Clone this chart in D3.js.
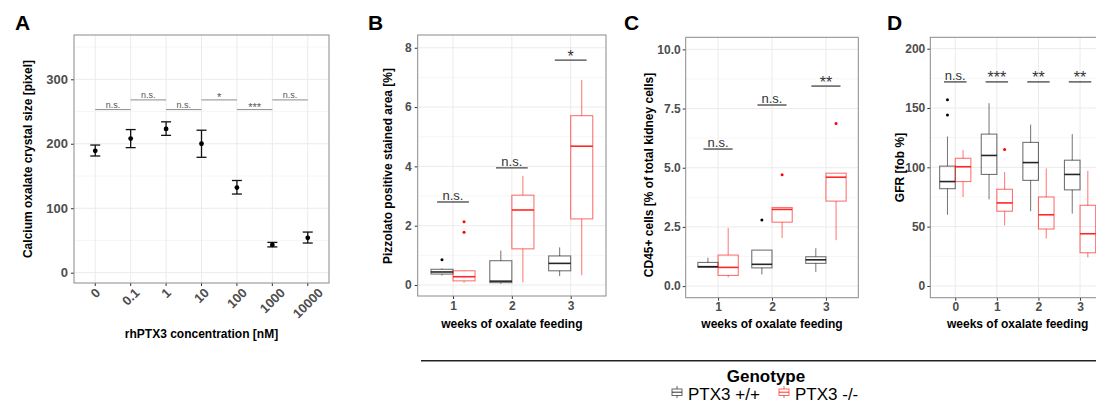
<!DOCTYPE html>
<html>
<head>
<meta charset="utf-8">
<script src="https://cdn.jsdelivr.net/npm/d3@7"></script>
<style>
  html, body { margin: 0; padding: 0; background: #fff; }
  svg { display: block; font-family: "Liberation Sans", Arial, Helvetica, sans-serif; }
</style>
</head>
<body>
<div id="chart"></div>
<script>
// -- Panel A: crystal size vs rhPTX3 concentration (mean +/- SEM) --------
var concLabels   = ["0", "0.1", "1", "10", "100", "1000", "10000"];
var crystalMean  = [189, 208, 223, 200, 132, 43, 54];
var crystalLow   = [181, 194, 213, 179, 122, 40, 46];
var crystalHigh  = [198, 222, 234, 221, 143, 47, 63];
var sigAFrom     = [0, 1, 2, 3, 4, 5];
var sigAY        = [253, 268, 253, 268, 253, 268];
var sigALabel    = ["n.s.", "n.s.", "n.s.", "*", "***", "n.s."];

// -- Boxplot stats: [lower whisker, Q1, median, Q3, upper whisker] -------
// Panel B: Pizzolato positive area
var weeksB      = ["1", "2", "3"];
var pizzWT      = [[0.32, 0.37, 0.44, 0.53, 0.56], [0.04, 0.08, 0.13, 0.82, 1.16], [0.30, 0.48, 0.73, 0.98, 1.27]];
var pizzKO      = [[0.08, 0.14, 0.28, 0.48, 0.50], [0.09, 1.22, 2.53, 3.03, 3.68], [0.33, 2.23, 4.68, 5.71, 6.91]];
var pizzWTOut   = [[0.85], [], []];
var pizzKOOut   = [[2.13, 1.78], [], []];
var sigBY       = [2.8, 3.95, 7.58];
var sigBLabel   = ["n.s.", "n.s.", "*"];

// Panel C: CD45+ cells
var weeksC      = ["1", "2", "3"];
var cd45WT      = [[0.79, 0.80, 0.82, 1.00, 1.20], [0.49, 0.77, 0.92, 1.52, 1.52], [0.60, 0.96, 1.11, 1.24, 1.60]];
var cd45KO      = [[0.37, 0.45, 0.79, 1.31, 2.46], [2.03, 2.70, 3.24, 3.32, 3.32], [1.94, 3.59, 4.60, 4.77, 4.77]];
var cd45WTOut   = [[], [2.79], []];
var cd45KOOut   = [[], [4.70], [6.87]];
var sigCY       = [5.79, 7.65, 8.45];
var sigCLabel   = ["n.s.", "n.s.", "**"];

// Panel D: GFR
var weeksD      = ["0", "1", "2", "3"];
var gfrWT       = [[60, 82, 88, 101, 126], [73, 94, 110, 128, 154], [63, 89, 104, 121, 136], [61, 81, 94, 106, 128]];
var gfrKO       = [[75, 88, 100.5, 107.6, 114.6], [51, 63, 70, 81.5, 96], [40, 48, 60, 75, 99], [24, 28, 44, 68, 97]];
var gfrWTOut    = [[157, 144], [], [], []];
var gfrKOOut    = [[], [115], [], []];
var sigDY       = [172, 172, 172, 172];
var sigDLabel   = ["n.s.", "***", "**", "**"];

var genotypes   = ["PTX3 +/+", "PTX3 -/-"];

// -- Setup ---------------------------------------------------------------
var W = 1096, H = 405;
var FONT = "'Liberation Sans', Arial, Helvetica, sans-serif";
var GENO_COLOR = ["#000000", "#ff0000"];

var svg = d3.select("#chart").append("svg")
  .attr("width", W).attr("height", H)
  .style("background", "#fff");

function panelFrame(p) {
  var n = p.cats.length;
  var x = d3.scaleLinear().domain([-0.6, n - 1 + 0.6]).range([p.left, p.right]);
  var y = d3.scaleLinear().domain(p.yDomain).range([p.bottom, p.top]);
  var g = svg.append("g");

  g.append("rect")
    .attr("x", p.left).attr("y", p.top)
    .attr("width", p.right - p.left).attr("height", p.bottom - p.top)
    .attr("fill", "#fff");

  // minor grid
  g.selectAll(".minor").data(p.yMinor).join("line")
    .attr("x1", p.left).attr("x2", p.right)
    .attr("y1", function (d) { return y(d); }).attr("y2", function (d) { return y(d); })
    .attr("stroke", "#f4f4f4").attr("stroke-width", 0.8);
  // major grid
  g.selectAll(".majorY").data(p.yTicks).join("line")
    .attr("x1", p.left).attr("x2", p.right)
    .attr("y1", function (d) { return y(d); }).attr("y2", function (d) { return y(d); })
    .attr("stroke", "#ebebeb").attr("stroke-width", 1);
  g.selectAll(".majorX").data(d3.range(n)).join("line")
    .attr("y1", p.top).attr("y2", p.bottom)
    .attr("x1", function (d) { return x(d); }).attr("x2", function (d) { return x(d); })
    .attr("stroke", "#ebebeb").attr("stroke-width", 1);

  // axes
  var yAxis = d3.axisLeft(y).tickValues(p.yTicks).tickSize(3).tickPadding(p.yPad)
    .tickFormat(p.yFormat || d3.format("d"));
  var ya = g.append("g").attr("transform", "translate(" + p.left + ",0)").call(yAxis);
  ya.select(".domain").remove();
  ya.selectAll("line").attr("stroke", "#333");
  ya.selectAll("text")
    .attr("font-family", FONT).attr("font-size", p.tickFs + "px")
    .attr("font-weight", "bold").attr("fill", "#4d4d4d");

  if (!p.rotateX) {
    var xAxis = d3.axisBottom(x).tickValues(d3.range(n)).tickSize(3).tickPadding(2)
      .tickFormat(function (i) { return p.cats[i]; });
    var xa = g.append("g").attr("transform", "translate(0," + p.bottom + ")").call(xAxis);
    xa.select(".domain").remove();
    xa.selectAll("line").attr("stroke", "#333");
    xa.selectAll("text")
      .attr("font-family", FONT).attr("font-size", p.tickFs + "px")
      .attr("font-weight", "bold").attr("fill", "#4d4d4d");
  } else {
    g.selectAll(".xt").data(d3.range(n)).join("line")
      .attr("x1", function (d) { return x(d); }).attr("x2", function (d) { return x(d); })
      .attr("y1", p.bottom).attr("y2", p.bottom + 3)
      .attr("stroke", "#333");
    var fs = p.tickFs;
    g.selectAll(".xl").data(d3.range(n)).join("text")
      .attr("font-family", FONT).attr("font-size", fs + "px")
      .attr("font-weight", "bold").attr("fill", "#4d4d4d")
      .attr("text-anchor", "middle").attr("dy", "0.35em")
      .text(function (i) { return p.cats[i]; })
      .attr("transform", function (i) {
        var L = this.getComputedTextLength();
        var hb = (L + 0.72 * fs) * 0.7071;
        return "translate(" + x(i) + "," + (p.bottom + 4 + hb / 2) + ") rotate(-45)";
      });
  }

  // panel border
  g.append("rect")
    .attr("x", p.left).attr("y", p.top)
    .attr("width", p.right - p.left).attr("height", p.bottom - p.top)
    .attr("fill", "none").attr("stroke", "#8a8a8a").attr("stroke-width", 1);

  // titles
  g.append("text")
    .attr("x", p.letterX).attr("y", 29.5)
    .attr("font-family", FONT).attr("font-size", "21px").attr("font-weight", "bold")
    .attr("fill", "#000").text(p.letter);
  g.append("text")
    .attr("transform", "translate(" + p.yTitleX + "," + p.yTitleY + ") rotate(-90)")
    .attr("text-anchor", "middle").attr("dy", "0.35em")
    .attr("font-family", FONT).attr("font-size", "12px").attr("font-weight", "bold")
    .attr("fill", "#000").text(p.yTitle);
  g.append("text")
    .attr("x", (p.left + p.right) / 2).attr("y", p.xTitleY)
    .attr("text-anchor", "middle")
    .attr("font-family", FONT).attr("font-size", "12px").attr("font-weight", "bold")
    .attr("fill", "#000").text(p.xTitle);

  return { g: g, x: x, y: y };
}

// -- Panel A --------------------------------------------------------------
(function () {
  var f = panelFrame({
    cats: concLabels, left: 74, right: 329, top: 35, bottom: 283,
    yDomain: [-16, 368.7], yTicks: [0, 100, 200, 300], yMinor: [50, 150, 250, 350],
    yPad: 3, tickFs: 13, rotateX: true,
    letter: "A", letterX: 15,
    yTitle: "Calcium oxalate crystal size [pixel]", yTitleX: 28, yTitleY: 159,
    xTitle: "rhPTX3 concentration [nM]", xTitleY: 338
  });
  var g = f.g, x = f.x, y = f.y;

  // significance
  sigAFrom.forEach(function (i, k) {
    g.append("line")
      .attr("x1", x(i)).attr("x2", x(i + 1))
      .attr("y1", y(sigAY[k])).attr("y2", y(sigAY[k]))
      .attr("stroke", "#8c8c8c").attr("stroke-width", 1);
    g.append("text")
      .attr("x", (x(i) + x(i + 1)) / 2).attr("y", y(sigAY[k]) - (sigALabel[k] === "n.s." ? 2 : -1))
      .attr("text-anchor", "middle")
      .attr("font-family", FONT).attr("font-size", (sigALabel[k] === "n.s." ? 9 : 11) + "px").attr("fill", "#555")
      .text(sigALabel[k]);
  });

  // error bars
  var eb = g.selectAll(".eb").data(d3.range(concLabels.length)).join("g");
  eb.append("line")
    .attr("x1", function (i) { return x(i); }).attr("x2", function (i) { return x(i); })
    .attr("y1", function (i) { return y(crystalLow[i]); }).attr("y2", function (i) { return y(crystalHigh[i]); })
    .attr("stroke", "#111").attr("stroke-width", 1.3);
  eb.append("line")
    .attr("x1", function (i) { return x(i) - 5; }).attr("x2", function (i) { return x(i) + 5; })
    .attr("y1", function (i) { return y(crystalLow[i]); }).attr("y2", function (i) { return y(crystalLow[i]); })
    .attr("stroke", "#111").attr("stroke-width", 1.3);
  eb.append("line")
    .attr("x1", function (i) { return x(i) - 5; }).attr("x2", function (i) { return x(i) + 5; })
    .attr("y1", function (i) { return y(crystalHigh[i]); }).attr("y2", function (i) { return y(crystalHigh[i]); })
    .attr("stroke", "#111").attr("stroke-width", 1.3);
  eb.append("circle")
    .attr("cx", function (i) { return x(i); }).attr("cy", function (i) { return y(crystalMean[i]); })
    .attr("r", 2.4).attr("fill", "#000");
})();

// -- Boxplot panels -------------------------------------------------------
function boxPanel(p, wt, ko, wtOut, koOut, sigY, sigLabel) {
  var f = panelFrame(p);
  var g = f.g, x = f.x, y = f.y;
  var unit = x(1) - x(0);
  var bw = 0.375 * unit;

  [wt, ko].forEach(function (stats, gi) {
    var off = gi === 0 ? -0.1875 : 0.1875;
    var col = GENO_COLOR[gi];
    var outs = gi === 0 ? wtOut : koOut;
    var bg = g.append("g").selectAll("g").data(stats).join("g");
    bg.append("line")
      .attr("x1", function (d, i) { return x(i + off); }).attr("x2", function (d, i) { return x(i + off); })
      .attr("y1", function (d) { return y(d[0]); }).attr("y2", function (d) { return y(d[1]); })
      .attr("stroke", col).attr("stroke-opacity", 0.55).attr("stroke-width", 1);
    bg.append("line")
      .attr("x1", function (d, i) { return x(i + off); }).attr("x2", function (d, i) { return x(i + off); })
      .attr("y1", function (d) { return y(d[3]); }).attr("y2", function (d) { return y(d[4]); })
      .attr("stroke", col).attr("stroke-opacity", 0.55).attr("stroke-width", 1);
    bg.append("rect")
      .attr("x", function (d, i) { return x(i + off) - bw / 2; })
      .attr("y", function (d) { return y(d[3]); })
      .attr("width", bw)
      .attr("height", function (d) { return Math.max(0.5, y(d[1]) - y(d[3])); })
      .attr("fill", "none").attr("stroke", col).attr("stroke-opacity", 0.55).attr("stroke-width", 1.1);
    bg.append("line")
      .attr("x1", function (d, i) { return x(i + off) - bw / 2; })
      .attr("x2", function (d, i) { return x(i + off) + bw / 2; })
      .attr("y1", function (d) { return y(d[2]); }).attr("y2", function (d) { return y(d[2]); })
      .attr("stroke", col).attr("stroke-opacity", 0.85).attr("stroke-width", 1.6);
    outs.forEach(function (arr, i) {
      arr.forEach(function (v) {
        g.append("circle")
          .attr("cx", x(i + off)).attr("cy", y(v)).attr("r", 1.5)
          .attr("fill", col);
      });
    });
  });

  sigY.forEach(function (v, i) {
    var isNs = sigLabel[i] === "n.s.";
    g.append("line")
      .attr("x1", x(i - 0.27)).attr("x2", x(i + 0.27))
      .attr("y1", y(v)).attr("y2", y(v))
      .attr("stroke", "#444").attr("stroke-width", 1.3);
    g.append("text")
      .attr("x", x(i)).attr("y", y(v) - (isNs ? 2 : -1.5))
      .attr("text-anchor", "middle")
      .attr("font-family", FONT).attr("font-size", (isNs ? 13 : 16) + "px")
      .attr("fill", "#333")
      .text(sigLabel[i]);
  });
}

boxPanel({
  cats: weeksB, left: 417.7, right: 606, top: 35, bottom: 296,
  yDomain: [-0.37, 8.43], yTicks: [0, 2, 4, 6, 8], yMinor: [1, 3, 5, 7],
  yPad: 3, tickFs: 12,
  letter: "B", letterX: 368,
  yTitle: "Pizzolato positive stained area [%]", yTitleX: 387.3, yTitleY: 166,
  xTitle: "weeks of oxalate feeding", xTitleY: 328
}, pizzWT, pizzKO, pizzWTOut, pizzKOOut, sigBY, sigBLabel);

boxPanel({
  cats: weeksC, left: 685.7, right: 858.3, top: 37.3, bottom: 297.7,
  yDomain: [-0.49, 10.51], yTicks: [0, 2.5, 5, 7.5, 10], yMinor: [1.25, 3.75, 6.25, 8.75],
  yPad: 2, tickFs: 12, yFormat: d3.format(".1f"),
  letter: "C", letterX: 624,
  yTitle: "CD45+ cells [% of total kidney cells]", yTitleX: 648.3, yTitleY: 175,
  xTitle: "weeks of oxalate feeding", xTitleY: 328
}, cd45WT, cd45KO, cd45WTOut, cd45KOOut, sigCY, sigCLabel);

boxPanel({
  cats: weeksD, left: 930.3, right: 1105, top: 37.3, bottom: 297.7,
  yDomain: [-9.9, 209.6], yTicks: [0, 50, 100, 150, 200], yMinor: [25, 75, 125, 175],
  yPad: 2, tickFs: 12,
  letter: "D", letterX: 887,
  yTitle: "GFR [fob %]", yTitleX: 899.3, yTitleY: 167.5,
  xTitle: "weeks of oxalate feeding", xTitleY: 328
}, gfrWT, gfrKO, gfrWTOut, gfrKOOut, sigDY, sigDLabel);

// -- Legend ---------------------------------------------------------------
svg.append("line")
  .attr("x1", 421).attr("x2", W).attr("y1", 360.7).attr("y2", 360.7)
  .attr("stroke", "#222").attr("stroke-width", 1.6);
svg.append("text")
  .attr("x", 766).attr("y", 382)
  .attr("text-anchor", "middle")
  .attr("font-family", FONT).attr("font-size", "17px").attr("font-weight", "bold")
  .attr("fill", "#000").text("Genotype");

var legX = [672, 779];
genotypes.forEach(function (name, i) {
  var kx = legX[i] + 5, ky = 386;
  var lg = svg.append("g");
  lg.append("line").attr("x1", kx).attr("x2", kx).attr("y1", ky).attr("y2", ky + 12)
    .attr("stroke", GENO_COLOR[i]).attr("stroke-opacity", 0.6);
  lg.append("rect").attr("x", kx - 5).attr("y", ky + 3).attr("width", 10).attr("height", 6.5)
    .attr("fill", "#fff").attr("stroke", GENO_COLOR[i]).attr("stroke-opacity", 0.6).attr("stroke-width", 1);
  lg.append("line").attr("x1", kx - 5).attr("x2", kx + 5).attr("y1", ky + 6.2).attr("y2", ky + 6.2)
    .attr("stroke", GENO_COLOR[i]).attr("stroke-opacity", 0.8);
  lg.append("text")
    .attr("x", legX[i] + 16).attr("y", 400)
    .attr("font-family", FONT).attr("font-size", "17px")
    .attr("fill", "#000").text(name);
});
</script>
</body>
</html>
